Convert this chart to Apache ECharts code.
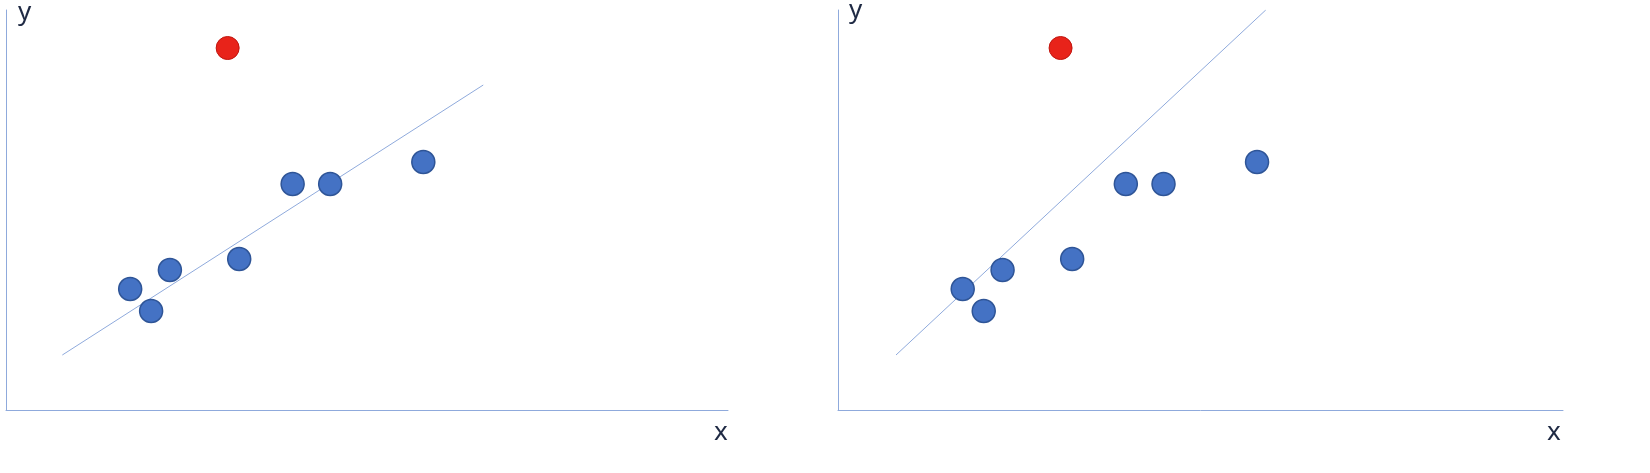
<!DOCTYPE html>
<html><head><meta charset="utf-8">
<script src="https://cdn.jsdelivr.net/npm/echarts@6/dist/echarts.min.js"></script>
<style>html,body{margin:0;background:#fff}#c{width:1650px;height:473px}</style>
</head><body><div id="c"></div>
<script>
// points (same in both panels), axis units 0..100
var blueX = [17.2, 20.1, 22.7, 32.3, 39.7, 44.9, 57.8];
var blueY = [30.25, 24.75, 35, 37.75, 56.5, 56.5, 62];
var redPoint = [30.7, 90.5];
// fitted lines: without outlier (left), with outlier (right)
var lineLeft = [[7.8, 13.75], [66.1, 81.25]];
var lineRight = [[8.0, 13.75], [59.0, 100]];

var chart = echarts.init(document.getElementById('c'));
var axisCol = '#8FAADC';
var blue = blueX.map(function (x, i) { return [x, blueY[i]]; });

function axis(idx) {
    return {
        type: 'value', gridIndex: idx, min: 0, max: 100,
        axisLine: {show: true, lineStyle: {color: axisCol, width: 1}},
        axisTick: {show: false}, axisLabel: {show: false}, splitLine: {show: false}
    };
}
function series(idx, line) {
    return [
        {type: 'line', xAxisIndex: idx, yAxisIndex: idx, data: line, symbol: 'none',
         lineStyle: {color: axisCol, width: 1}, z: 1},
        {type: 'scatter', xAxisIndex: idx, yAxisIndex: idx, data: blue, symbolSize: 23,
         itemStyle: {color: '#4472C4', borderColor: '#2F5597', borderWidth: 1.5, opacity: 1}, z: 3},
        {type: 'scatter', xAxisIndex: idx, yAxisIndex: idx, data: [redPoint], symbolSize: 23,
         itemStyle: {color: '#E8231A', borderColor: '#C0150E', borderWidth: 1, opacity: 1}, z: 3}
    ];
}

var txt = {fill: '#1F2A44', fontSize: 26, fontFamily: 'Noto Sans'};
chart.setOption({
    animation: false,
    grid: [
        {left: 6, top: 10, width: 722, height: 400},
        {left: 838, top: 10, width: 725, height: 400}
    ],
    xAxis: [axis(0), axis(1)],
    yAxis: [axis(0), axis(1)],
    series: series(0, lineLeft).concat(series(1, lineRight)),
    graphic: [
        {type: 'text', left: 18, top: 0, style: Object.assign({text: 'y'}, txt)},
        {type: 'text', left: 714, top: 420, style: Object.assign({text: 'x'}, txt)},
        {type: 'text', left: 849, top: -2, style: Object.assign({text: 'y'}, txt)},
        {type: 'text', left: 1547, top: 420, style: Object.assign({text: 'x'}, txt)}
    ]
});
</script>
</body></html>
